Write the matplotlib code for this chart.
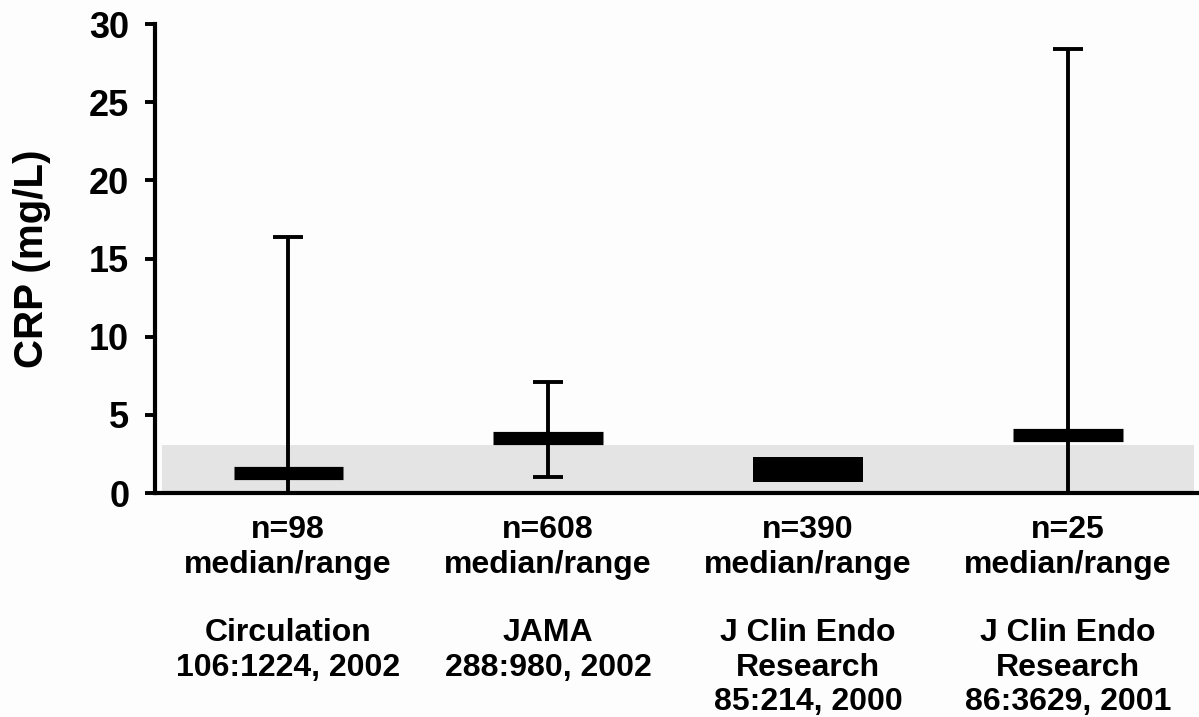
import matplotlib
matplotlib.use("Agg")
import matplotlib.pyplot as plt

# CRP (mg/L) summaries from four published cohorts
sample_sizes = [98, 608, 390, 25]
summary_type = ["median/range"] * 4
sources = [
    "Circulation\n106:1224, 2002",
    "JAMA\n288:980, 2002",
    "J Clin Endo\nResearch\n85:214, 2000",
    "J Clin Endo\nResearch\n86:3629, 2001",
]
medians = [1.3, 3.5, None, 3.7]
range_low = [0.0, 1.0, 0.7, 0.0]
range_high = [16.35, 7.1, 2.3, 28.4]
has_whiskers = [True, True, False, True]

# shaded reference zone
band_low, band_high = 0.0, 3.1

y_ticks = [0, 5, 10, 15, 20, 25, 30]

plt.rcParams["font.family"] = ["Liberation Sans", "DejaVu Sans"]
plt.rcParams["font.weight"] = "bold"

fig = plt.figure(figsize=(11.99, 7.17), dpi=100, facecolor="#fdfdfd")
ax = fig.add_axes([0.1293, 0.3124, 0.8707, 0.6541])
ax.set_facecolor("#fdfdfd")

positions = list(range(1, len(sample_sizes) + 1))

ax.axhspan(band_low, band_high, xmin=0.007, xmax=0.995, color="#e4e4e4", lw=0, zorder=0)

bar_w = 0.42
cap_w = 0.115
for x, med, lo, hi, wh in zip(positions, medians, range_low, range_high, has_whiskers):
    if wh:
        ax.vlines(x, lo, hi, color="black", lw=2.8, zorder=2)
        ax.hlines([hi, lo], x - cap_w / 2, x + cap_w / 2, color="black", lw=2.8, zorder=2)
    if med is not None:
        ax.hlines(med, x - bar_w / 2, x + bar_w / 2, color="black", lw=9.5, zorder=3)
    else:
        ax.bar(x, hi - lo, bottom=lo, width=bar_w, color="black", zorder=3)

ax.set_xlim(0.488, 4.504)
ax.set_ylim(0, 30)
ax.set_yticks(y_ticks)
ax.set_yticklabels([str(t) for t in y_ticks], fontsize=26, fontweight="bold")

labels = [f"n={n}\n{s}\n\n{src}" for n, s, src in zip(sample_sizes, summary_type, sources)]
ax.set_xticks(positions)
ax.set_xticklabels(labels, fontsize=23, fontweight="bold", linespacing=1.19, va="top")

ax.tick_params(axis="x", length=0, pad=16)
ax.tick_params(axis="y", length=7.5, width=2.8, pad=11)

for side in ("top", "right"):
    ax.spines[side].set_visible(False)
for side in ("left", "bottom"):
    ax.spines[side].set_linewidth(3.0)

ax.set_ylabel("CRP (mg/L)", fontsize=29, fontweight="bold")
ax.yaxis.set_label_coords(-0.1, 0.5)

fig.savefig("out.png", dpi=100, facecolor=fig.get_facecolor())
